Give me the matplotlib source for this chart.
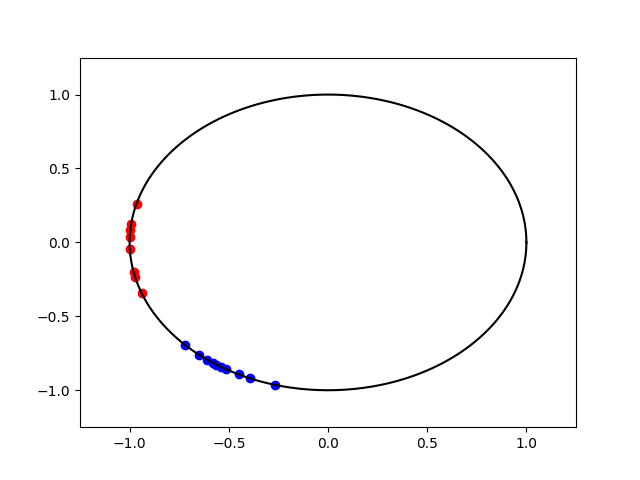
import numpy as np
import matplotlib
matplotlib.use("Agg")
import matplotlib.pyplot as plt

# angles (degrees) of the points on the unit circle
red_angles = [164.8, 172.7, 175.3, 177.9, 182.5, 191.7, 193.7, 200.0]
blue_angles = [223.8, 229.5, 232.4, 234.4, 235.8, 237.5, 239.2, 243.3, 246.8, 254.6]

t = np.linspace(0, 2 * np.pi, 400)

fig, ax = plt.subplots(figsize=(6.4, 4.8), dpi=100)
ax.plot(np.cos(t), np.sin(t), color='black')

r = np.radians(red_angles)
b = np.radians(blue_angles)
ax.scatter(np.cos(r), np.sin(r), color='red')
ax.scatter(np.cos(b), np.sin(b), color='blue')

ax.set_xlim(-1.25, 1.25)
ax.set_ylim(-1.25, 1.25)
ax.set_xticks([-1.0, -0.5, 0.0, 0.5, 1.0])
ax.set_yticks([-1.0, -0.5, 0.0, 0.5, 1.0])

plt.savefig("out.png")
